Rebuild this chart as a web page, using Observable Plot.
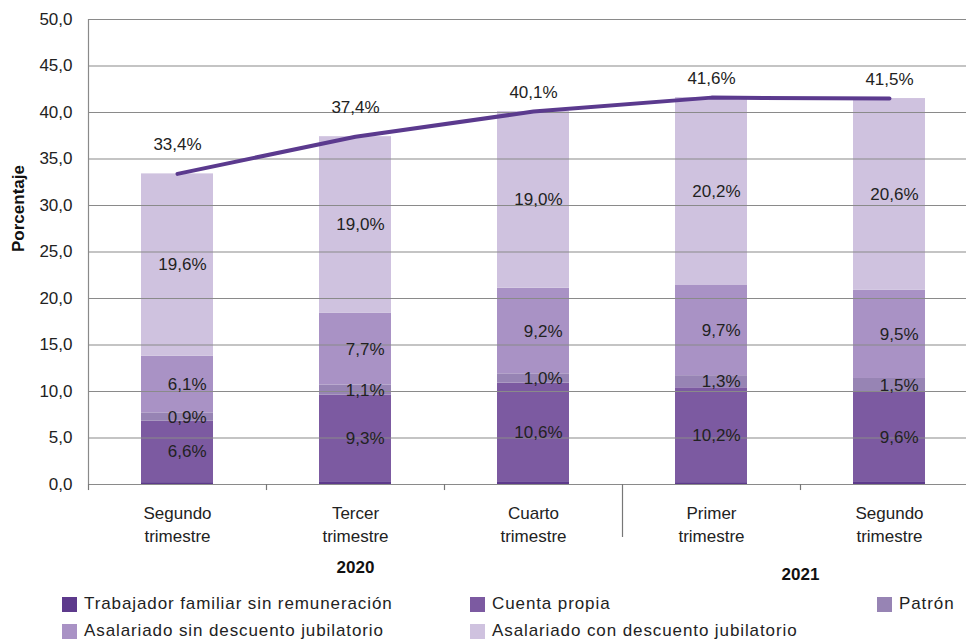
<!DOCTYPE html>
<html>
<head>
<meta charset="utf-8">
<script src="https://cdn.jsdelivr.net/npm/d3@7"></script>
<script src="https://cdn.jsdelivr.net/npm/@observablehq/plot@0.6"></script>
<style>
  body { margin: 0; background: #fff; font-family: "Liberation Sans", Arial, sans-serif; }
  #wrap { width: 968px; position: relative; overflow: hidden; }
  #legend { position: relative; width: 968px; height: 56px; font-size: 17px; color: #222; letter-spacing: 0.9px; }
  .item { position: absolute; display: flex; align-items: center; height: 20px; white-space: nowrap; }
  .sw { width: 15px; height: 15px; margin-right: 7px; }
</style>
</head>
<body>
<div id="wrap"></div>
<script>
const keys = ["2020-T2", "2020-T3", "2020-T4", "2021-T1", "2021-T2"];
const quarterLabels = ["Segundo\ntrimestre", "Tercer\ntrimestre", "Cuarto\ntrimestre", "Primer\ntrimestre", "Segundo\ntrimestre"];
const years = ["2020", "2021"];
const seriesNames = [
  "Trabajador familiar sin remuneración",
  "Cuenta propia",
  "Patrón",
  "Asalariado sin descuento jubilatorio",
  "Asalariado con descuento jubilatorio"
];
const colors = ["#5d3a8c", "#7c5aa1", "#9784b4", "#a992c5", "#cfc2df"];
const familiar = [0.2, 0.3, 0.3, 0.2, 0.3];
const cuentaPropia = [6.6, 9.3, 10.6, 10.2, 9.6];
const patron = [0.9, 1.1, 1.0, 1.3, 1.5];
const asalSin = [6.1, 7.7, 9.2, 9.7, 9.5];
const asalCon = [19.6, 19.0, 19.0, 20.2, 20.6];
const total = [33.4, 37.4, 40.1, 41.6, 41.5];
const yTicks = [0, 5, 10, 15, 20, 25, 30, 35, 40, 45, 50];

const seriesValues = [familiar, cuentaPropia, patron, asalSin, asalCon];
const labeled = [false, true, true, true, true];

const comma = (v, d = 1) => v.toFixed(d).replace(".", ",");

// long-format rows with stack positions
const rows = [];
keys.forEach((k, i) => {
  let base = 0;
  seriesValues.forEach((arr, s) => {
    const v = arr[i];
    rows.push({key: k, series: seriesNames[s], value: v, y1: base, y2: base + v, mid: base + v / 2, labeled: labeled[s], s});
    base += v;
  });
});
const totals = keys.map((k, i) => ({key: k, total: total[i], i}));

const W = 968, marginLeft = 88, marginRight = 2;
const xRange = [88, 978];
const bw = (xRange[1] - xRange[0]) / keys.length;

const boundaries = keys.map((k, i) => ({key: k, sep: i === 3}));

const font = "'Liberation Sans', Arial, sans-serif";
const ls = "0.8px";

const chart = Plot.plot({
  width: W,
  height: 585,
  marginLeft,
  marginRight,
  marginTop: 19,
  marginBottom: 101,
  style: {fontFamily: font, fontSize: "17px", color: "#222", background: "#fff", overflow: "visible"},
  x: {type: "band", domain: keys, padding: 0, range: xRange, label: null},
  y: {domain: [0, 50], label: null},
  color: {domain: seriesNames, range: colors},
  marks: [
    Plot.rectY(rows, {x: "key", y1: "y1", y2: "y2", fill: "series", insetLeft: 53, insetRight: 53}),
    Plot.gridY(yTicks, {stroke: "#8a8a8a", strokeOpacity: 1, strokeWidth: 1.2}),
    Plot.ruleX(keys.slice(0, 1), {x: d => d, dx: -bw / 2, y1: 0, y2: 50, stroke: "#8a8a8a", strokeWidth: 1.2}),
    Plot.ruleX(boundaries, {x: "key", dx: -bw / 2, y1: 0, y2: d => d.sep ? -5.7 : -0.65, stroke: "#777", strokeWidth: 1.2}),
    Plot.axisY(yTicks, {tickSize: 0, tickPadding: 16, tickFormat: d => comma(d), fontSize: 17, fill: "#222", letterSpacing: ls}),
    Plot.axisX({tickSize: 0, tickPadding: 18, tickFormat: d => quarterLabels[keys.indexOf(d)], lineHeight: 1.35, fontSize: 17, fill: "#222", letterSpacing: "1px"}),
    Plot.lineY(totals, {x: "key", y: "total", stroke: "#5b3a8e", strokeWidth: 4}),
    Plot.text(rows.filter(d => d.labeled), {x: "key", y: "mid", text: d => comma(d.value) + "%", fontSize: 17, fill: "#222", textAnchor: "end", dx: 29, letterSpacing: ls}),
    Plot.text(totals.filter(d => d.i < 2), {x: "key", y: "total", text: d => comma(d.total) + "%", dy: -29, fontSize: 17, fill: "#222", letterSpacing: ls}),
    Plot.text(totals.filter(d => d.i >= 2), {x: "key", y: "total", text: d => comma(d.total) + "%", dy: -19, fontSize: 17, fill: "#222", letterSpacing: ls}),
    Plot.text([years[0]], {x: () => keys[1], frameAnchor: "bottom", dy: 88, text: d => d, fontWeight: "bold", fontSize: 17, fill: "#111", letterSpacing: "1px"}),
    Plot.text([years[1]], {x: () => keys[4], frameAnchor: "bottom", dy: 95, dx: -bw / 2, text: d => d, fontWeight: "bold", fontSize: 17, fill: "#111", letterSpacing: "1px"}),
    Plot.text(["Porcentaje"], {frameAnchor: "left", dx: -70, rotate: -90, text: d => d, fontWeight: "bold", fontSize: 17, fill: "#111", letterSpacing: ls})
  ]
});

const wrap = document.getElementById("wrap");
wrap.appendChild(chart);

const legend = document.createElement("div");
legend.id = "legend";
const pos = [[62, 9], [470, 9], [877, 9], [62, 36], [470, 36]];
seriesNames.forEach((n, i) => {
  const it = document.createElement("div");
  it.className = "item";
  it.style.left = pos[i][0] + "px";
  it.style.top = pos[i][1] + "px";
  const sw = document.createElement("span");
  sw.className = "sw";
  sw.style.background = colors[i];
  const t = document.createElement("span");
  t.textContent = n;
  it.appendChild(sw);
  it.appendChild(t);
  legend.appendChild(it);
});
wrap.appendChild(legend);
</script>
</body>
</html>
